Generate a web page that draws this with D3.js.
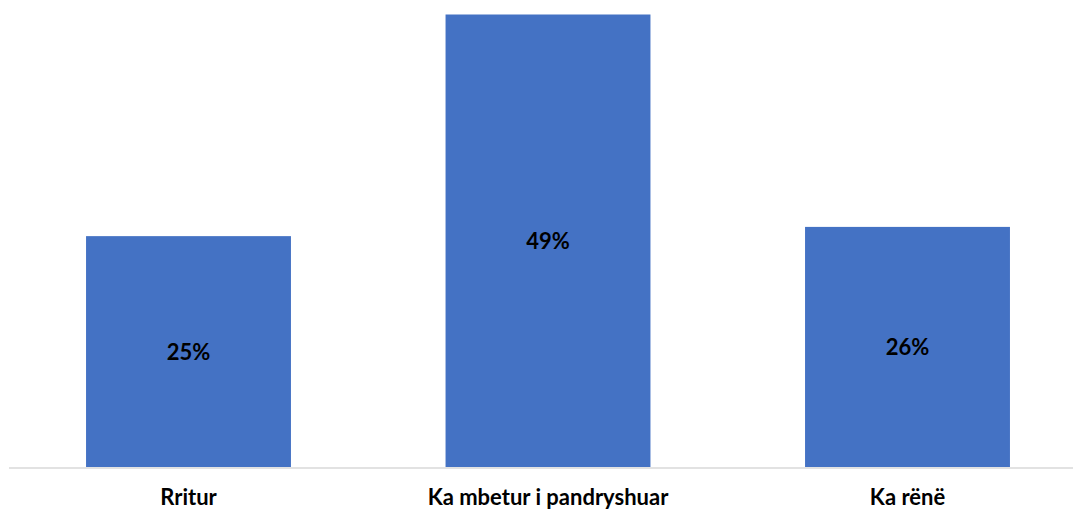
<!DOCTYPE html>
<html>
<head>
<meta charset="utf-8">
<script src="https://cdn.jsdelivr.net/npm/d3@7"></script>
<style>
  html, body { margin: 0; padding: 0; background: #fff; }
  svg { display: block; }
  text { font-family: Lato, Carlito, "Open Sans", sans-serif; font-weight: bold; }
</style>
</head>
<body>
<svg id="chart" width="1073" height="510"></svg>
<script>
const categories = ["Rritur", "Ka mbetur i pandryshuar", "Ka rënë"];
const values = [25, 49, 26];
const valueLabels = ["25%", "49%", "26%"];

const W = 1073, H = 510;
const baseY = 467;
const svg = d3.select("#chart");

const x = d3.scaleBand()
  .domain(categories)
  .range([8.75, 1087.25])
  .paddingInner(0.43)
  .paddingOuter(0.215);

const y = d3.scaleLinear()
  .domain([0, 49])
  .range([baseY, 14.5]);

const data = categories.map((c, i) => ({ c, v: values[i], label: valueLabels[i] }));

svg.selectAll("rect.bar")
  .data(data)
  .enter().append("rect")
  .attr("class", "bar")
  .attr("x", d => x(d.c))
  .attr("y", d => y(d.v))
  .attr("width", x.bandwidth())
  .attr("height", d => y(0) - y(d.v))
  .attr("fill", "#4472C4");

// axis baseline
const axis = d3.axisBottom(x).tickSize(0).tickPadding(0);
const gAxis = svg.append("g").attr("transform", `translate(0,${baseY + 1})`).call(axis);
gAxis.select(".domain").attr("stroke", "#d9d9d9").attr("stroke-width", 1.5)
  .attr("d", `M9,0H${W}`);
gAxis.selectAll(".tick text")
  .attr("y", 37)
  .attr("dy", 0)
  .attr("fill", "#000")
  .style("font-size", "22px")
  .style("font-family", "Lato, Carlito, sans-serif")
  .style("font-weight", "bold");

// value labels
svg.selectAll("text.val")
  .data(data)
  .enter().append("text")
  .attr("class", "val")
  .attr("x", d => x(d.c) + x.bandwidth() / 2)
  .attr("y", d => (y(d.v) + y(0)) / 2 + 8)
  .attr("text-anchor", "middle")
  .attr("fill", "#000")
  .style("font-size", "22px")
  .text(d => d.label);
</script>
</body>
</html>
